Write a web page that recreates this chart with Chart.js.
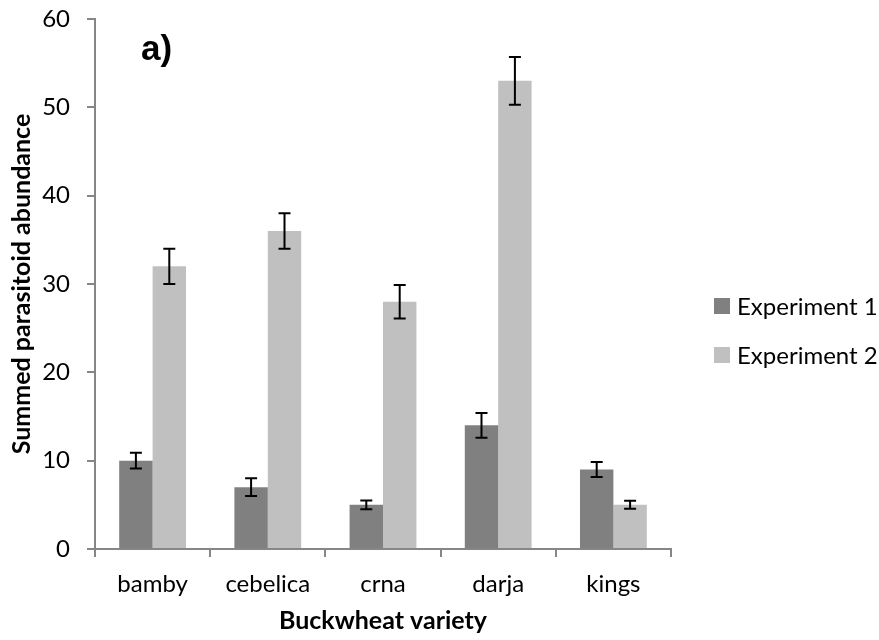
<!DOCTYPE html>
<html>
<head>
<meta charset="utf-8">
<script src="https://cdn.jsdelivr.net/npm/chart.js@4/dist/chart.umd.min.js"></script>
<style>
  html, body { margin: 0; padding: 0; background: #ffffff; }
  #wrap { width: 879px; height: 640px; position: relative; }
</style>
</head>
<body>
<div id="wrap"><canvas id="c" width="879" height="640"></canvas></div>
<script>
// Buckwheat varieties and summed parasitoid abundance per experiment
const varieties = ['bamby', 'cebelica', 'crna', 'darja', 'kings'];
const exp1Values = [10, 7, 5, 14, 9];
const exp2Values = [32, 36, 28, 53, 5];
// Standard errors shown as error bars
const exp1Errors = [0.9, 1.0, 0.5, 1.4, 0.85];
const exp2Errors = [2.0, 2.0, 1.9, 2.7, 0.45];
const yTicks = [0, 10, 20, 30, 40, 50, 60];

const seriesNames = ['Experiment 1', 'Experiment 2'];
const seriesColors = ['#808080', '#c0c0c0'];
const errors = [exp1Errors, exp2Errors];

const AXIS_COLOR = '#868686';
const TICK_FONT = { family: 'Lato', size: 24 };

// Error bars with caps, drawn from each bar's value through the y scale
const errorBarPlugin = {
  id: 'errorBars',
  afterDatasetsDraw(chart) {
    const ctx = chart.ctx;
    const y = chart.scales.y;
    ctx.save();
    ctx.strokeStyle = '#000000';
    ctx.lineWidth = 2;
    chart.data.datasets.forEach((ds, di) => {
      const meta = chart.getDatasetMeta(di);
      meta.data.forEach((bar, i) => {
        const v = ds.data[i];
        const e = errors[di][i];
        const top = y.getPixelForValue(v + e);
        const bot = y.getPixelForValue(v - e);
        const x = bar.x;
        ctx.beginPath();
        ctx.moveTo(x, top); ctx.lineTo(x, bot);
        ctx.moveTo(x - 6, top); ctx.lineTo(x + 6, top);
        ctx.moveTo(x - 6, bot); ctx.lineTo(x + 6, bot);
        ctx.stroke();
      });
    });
    ctx.restore();
  }
};

// Panel label, axis titles and legend
const annotationsPlugin = {
  id: 'annotations',
  afterDraw(chart) {
    const ctx = chart.ctx;
    const area = chart.chartArea;
    ctx.save();
    ctx.fillStyle = '#000000';

    // panel label
    ctx.font = 'bold 35px "Liberation Sans", Arial, sans-serif';
    ctx.textAlign = 'left';
    ctx.textBaseline = 'alphabetic';
    ctx.fillText('a)', 141, 60);

    // x axis title
    ctx.font = 'bold 25px Lato, sans-serif';
    ctx.textAlign = 'center';
    ctx.textBaseline = 'middle';
    ctx.fillText('Buckwheat variety', (area.left + area.right) / 2, 621);

    // y axis title
    ctx.save();
    ctx.translate(22, (area.top + area.bottom) / 2);
    ctx.rotate(-Math.PI / 2);
    ctx.fillText('Summed parasitoid abundance', 0, 0);
    ctx.restore();

    // legend
    ctx.font = '24px Lato, sans-serif';
    ctx.textAlign = 'left';
    const rows = [306, 355];
    chart.data.datasets.forEach((ds, i) => {
      ctx.fillStyle = ds.backgroundColor;
      ctx.fillRect(714, rows[i] - 8, 16, 16);
      ctx.fillStyle = '#000000';
      ctx.fillText(ds.label, 737, rows[i] + 1);
    });
    ctx.restore();
  }
};

new Chart(document.getElementById('c'), {
  type: 'bar',
  data: {
    labels: varieties,
    datasets: [
      { label: seriesNames[0], data: exp1Values, backgroundColor: seriesColors[0] },
      { label: seriesNames[1], data: exp2Values, backgroundColor: seriesColors[1] }
    ]
  },
  options: {
    responsive: false,
    animation: false,
    devicePixelRatio: 1,
    layout: { padding: { top: 19, right: 208, left: 0, bottom: 0 } },
    datasets: { bar: { categoryPercentage: 0.58, barPercentage: 1.0 } },
    plugins: {
      legend: { display: false },
      tooltip: { enabled: false },
      title: { display: false }
    },
    scales: {
      x: {
        afterFit(scale) {
          scale.height = 91;
          scale.paddingLeft = 0; scale.paddingRight = 0;
        },
        border: { display: true, color: AXIS_COLOR, width: 2 },
        grid: {
          offset: true, drawOnChartArea: false, drawTicks: true,
          tickLength: 8, color: AXIS_COLOR, lineWidth: 2
        },
        ticks: { font: TICK_FONT, color: '#000000', padding: 13, maxRotation: 0 }
      },
      y: {
        min: 0, max: 60,
        afterFit(scale) {
          scale.width = 95;
          scale.paddingTop = 0; scale.paddingBottom = 0;
        },
        afterBuildTicks(scale) { scale.ticks = yTicks.map(v => ({ value: v })); },
        border: { display: true, color: AXIS_COLOR, width: 2 },
        grid: {
          drawOnChartArea: false, drawTicks: true,
          tickLength: 8, color: AXIS_COLOR, lineWidth: 2
        },
        ticks: { font: TICK_FONT, color: '#000000', padding: 17 }
      }
    }
  },
  plugins: [errorBarPlugin, annotationsPlugin]
});
</script>
</body>
</html>
